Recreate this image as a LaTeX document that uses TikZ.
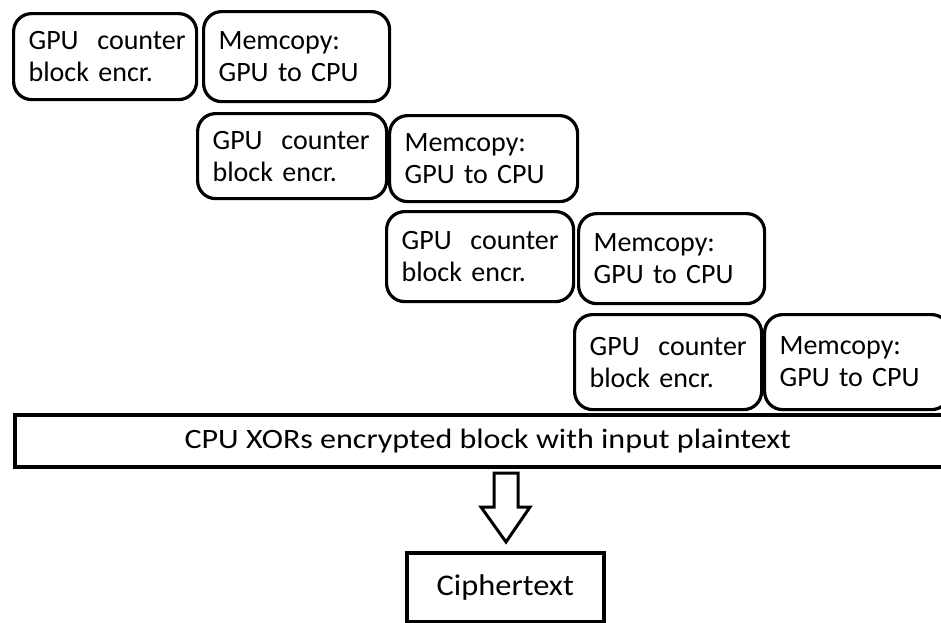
\documentclass[tikz,border=0pt]{standalone}
\usepackage{fontspec}
\setmainfont{Carlito}
\begin{document}
\begin{tikzpicture}[x=1pt,y=-1pt,
  stagebox/.style={draw=black, line width=3.2pt, rounded corners=18pt, inner xsep=15pt, inner ysep=0pt,
    align=left, font=\fontsize{28}{32}\selectfont, anchor=north west},
  flatbox/.style={draw=black, line width=3.6pt, inner sep=0pt, align=center, anchor=north west}]
\useasboundingbox (0,0) rectangle (941,622);
% row 1
\node[stagebox, text width=153pt, minimum height=86pt] (a1) at (12,12) {GPU~~counter\\block~encr.};
\node[stagebox, text width=156pt, minimum height=90pt] (b1) at (202,10) {Memcopy:\\GPU~to~CPU};
% row 2
\node[stagebox, text width=159pt, minimum height=85pt] (a2) at (196,112) {GPU~~counter\\block~encr.};
\node[stagebox, text width=158pt, minimum height=86pt] (b2) at (388,114) {Memcopy:\\GPU~to~CPU};
% row 3
\node[stagebox, text width=157pt, minimum height=90pt] (a3) at (385,210) {GPU~~counter\\block~encr.};
\node[stagebox, text width=156pt, minimum height=90pt] (b3) at (577,212) {Memcopy:\\GPU~to~CPU};
% row 4
\node[stagebox, text width=157pt, minimum height=95pt] (a4) at (573,313) {GPU~~counter\\block~encr.};
\node[stagebox, text width=155pt, minimum height=95pt] (b4) at (763,313) {Memcopy:\\GPU~to~CPU};
% CPU box
\node[flatbox, minimum width=946pt, minimum height=52pt, font=\fontsize{28}{32}\selectfont] (cpu) at (13,413)
  {\scalebox{1.145}[1]{CPU XORs encrypted block with input plaintext}};
% Ciphertext
\node[flatbox, minimum width=197pt, minimum height=69pt, font=\fontsize{30}{34}\selectfont] (ct) at (405,551)
  {\scalebox{1.08}[1]{Ciphertext}};
% hollow arrow
\draw[line width=3pt, line join=miter]
  (494,473) -- (518,473) -- (518,507) -- (530,507) -- (506,542) -- (481,507) -- (494,507) -- cycle;
\end{tikzpicture}
\end{document}
